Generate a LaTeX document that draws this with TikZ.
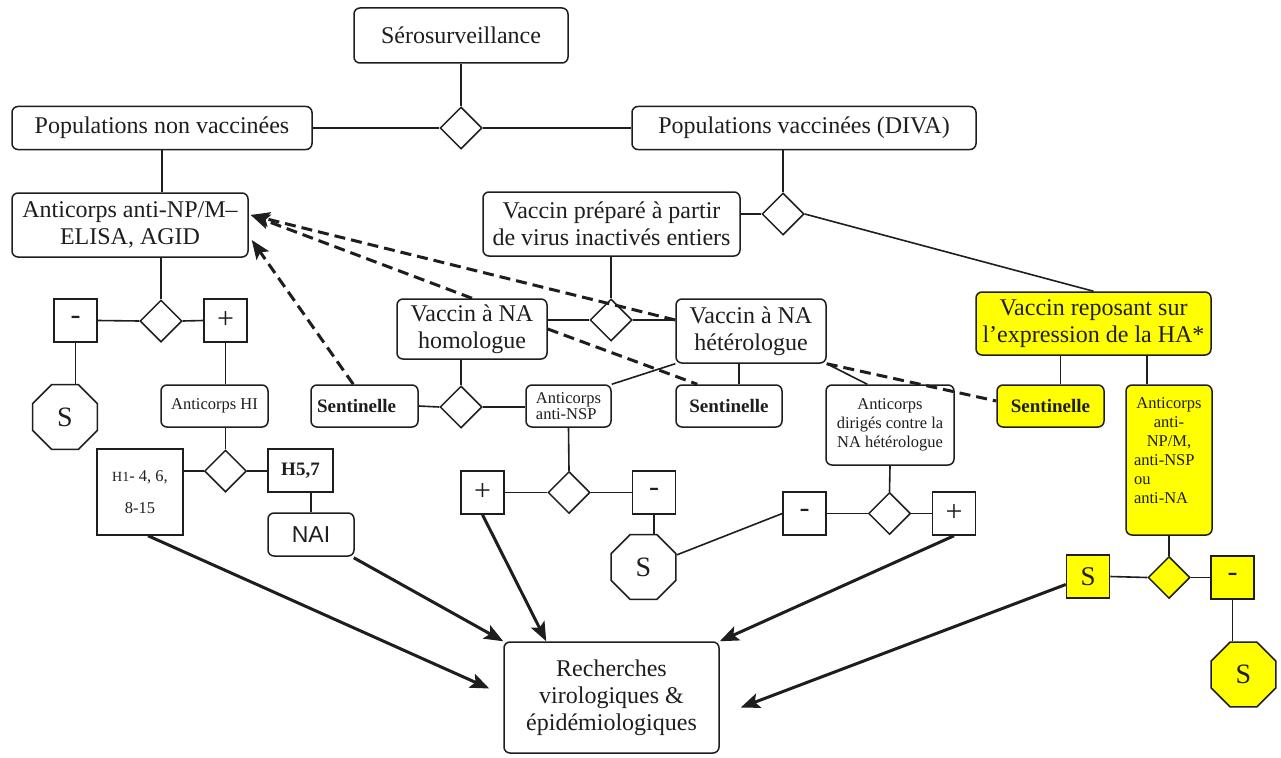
\documentclass[tikz,border=0pt]{standalone}
\usepackage{fontspec}
\setmainfont{Liberation Serif}
\newfontfamily\naifont{Liberation Sans}
\usetikzlibrary{shapes.geometric,arrows.meta,calc}
\definecolor{yel}{RGB}{255,255,0}
\definecolor{ink}{RGB}{30,30,30}
\begin{document}
\begin{tikzpicture}[x=1pt,y=-1pt,
  every node/.style={text=ink},
  box/.style={draw=ink, rounded corners=6pt, line width=1.5pt, inner sep=0pt, align=center, font=\fontsize{24}{27}\selectfont},
  smallbox/.style={box, font=\fontsize{16.5}{19}\selectfont},
  sq/.style={draw=ink, line width=1.5pt, inner sep=0pt, minimum width=43pt, minimum height=43pt, font=\fontsize{30}{30}\selectfont},
  dia/.style={draw=ink, diamond, line width=1.5pt, minimum width=42pt, minimum height=42pt, inner sep=0pt},
  oct/.style={draw=ink, regular polygon, regular polygon sides=8, minimum size=70pt, inner sep=0pt, line width=1.5pt, font=\fontsize{28}{30}\selectfont},
  yf/.style={fill=yel},
  conn/.style={draw=ink, line width=1.6pt},
  arr/.style={draw=ink, line width=3pt, -{Stealth[length=19pt,width=15pt,inset=4pt]}},
  dsh/.style={draw=ink, line width=3pt, dash pattern=on 11pt off 6pt},
  dsharr/.style={dsh, -{Stealth[length=19pt,width=15pt,inset=4pt]}}
]
\useasboundingbox (0,0) rectangle (1281,757);
\fill[white] (0,0) rectangle (1281,757);

% top
\node[box, minimum width=214pt, minimum height=55pt] (ser) at (461,35.5) {Sérosurveillance};
\node[dia] (d1) at (461,128) {};
\node[box, minimum width=300pt, minimum height=43pt] (pnv) at (162,128) {Populations non vaccinées};
\node[box, minimum width=344pt, minimum height=43pt] (pv) at (804,128) {Populations vaccinées (DIVA)};
\node[box, minimum width=236pt, minimum height=64pt] (anp) at (130,225) {Anticorps anti-NP/M–\\ELISA, AGID};
\node[box, minimum width=257pt, minimum height=64pt] (vp) at (611.5,224) {Vaccin préparé à partir\\de virus inactivés entiers};
\node[dia] (d2) at (783,214) {};
\node[box, yf, minimum width=235pt, minimum height=63pt] (ha) at (1093.5,323.5) {Vaccin reposant sur\\l’expression de la HA*};

% middle
\node[dia] (d3) at (611,320) {};
\node[box, minimum width=150pt, minimum height=60pt] (hom) at (472,329) {Vaccin à NA\\homologue};
\node[box, minimum width=150pt, minimum height=64pt] (het) at (751,331) {Vaccin à NA\\hétérologue};
\node[dia] (d4) at (461,407) {};
\node[box, minimum height=42pt, text width=95pt, align=left, inner xsep=6pt, font=\fontsize{19}{21}\selectfont\bfseries] (sen1) at (364.5,406) {Sentinelle};
\node[smallbox, minimum width=85pt, minimum height=42pt, align=left, font=\fontsize{16.5}{16}\selectfont] (nsp) at (568.5,406) {Anticorps\\anti-NSP};
\node[box, minimum width=106pt, minimum height=42pt, font=\fontsize{19}{21}\selectfont\bfseries] (sen2) at (729,406) {Sentinelle};
\node[box, yf, minimum width=107pt, minimum height=42pt, font=\fontsize{19}{21}\selectfont\bfseries] (ysen) at (1050.5,406) {Sentinelle};
\node[smallbox, yf, minimum width=86pt, minimum height=150pt] (yab) at (1169,460) {Anticorps\\anti-\\NP/M,\\\makebox[70pt][l]{anti-NSP}\\\makebox[70pt][l]{ou}\\\makebox[70pt][l]{anti-NA}\\\mbox{}};
\node[smallbox, minimum width=128pt, minimum height=80pt] (dir) at (890,425) {Anticorps\\dirigés contre la\\NA hétérologue};

% left branch
\node[sq] (m1) at (75.5,320.5) {-};
\node[dia] (d6) at (161,321) {};
\node[sq] (p1) at (225.5,320.5) {+};
\node[oct] (o1) at (65,417) {S};
\node[smallbox, minimum width=107pt, minimum height=42pt] (hi) at (214.5,406) {Anticorps HI};
\node[dia] (d7) at (225.5,471) {};
\node[sq, minimum width=86pt, minimum height=86pt, align=center, font=\fontsize{16.5}{32}\selectfont] (h1) at (140,492) {{\fontsize{14}{32}\selectfont H1}- 4, 6,\\8-15};
\node[sq, minimum width=65pt, minimum height=43pt, font=\fontsize{19}{21}\selectfont\bfseries] (h57) at (300.5,470.5) {H5,7};
\node[box, minimum width=86pt, minimum height=43pt, font=\fontsize{23}{25}\selectfont\naifont] (nai) at (311,534.5) {NAI};

% NSP branch
\node[sq] (p2) at (482.5,492.5) {+};
\node[dia] (d5) at (569,492.5) {};
\node[sq] (m2) at (654,492.5) {-};
\node[oct] (o2) at (643.5,567) {S};

% heterologous NA branch
\node[sq] (m3) at (804.5,513.5) {-};
\node[dia] (d8) at (889.5,513.5) {};
\node[sq] (p3) at (954,513.5) {+};

% yellow branch
\node[sq, yf, font=\fontsize{27}{28}\selectfont] (ysb) at (1088,576.5) {S};
\node[dia, yf] (yd) at (1169,577.5) {};
\node[sq, yf] (ym) at (1232.5,577.5) {-};
\node[oct, yf] (yo) at (1243.5,674.5) {S};

% bottom
\node[box, minimum width=215pt, minimum height=111pt] (rech) at (611.5,697.5) {Recherches\\virologiques \&\\épidémiologiques};

% connectors
\path[conn] (ser.south) -- (d1.north);
\path[conn] (pnv.east) -- (d1.west);
\path[conn] (d1.east) -- (pv.west);
\path[conn] (pnv.south) -- (pnv.south |- anp.north);
\path[conn] (d2.north |- pv.south) -- (d2.north);
\path[conn] (d2.west) -- (d2.west -| vp.east);
\path[conn] (d2.east) -- (ha.north);
\path[conn] (d3.north |- vp.south) -- (d3.north);
\path[conn] (d3.west -| hom.east) -- (d3.west);
\path[conn] (d3.east) -- (d3.east -| het.west);
\path[conn] (d4.north |- hom.south) -- (d4.north);
\path[conn] (sen1.east) -- (d4.west);
\path[conn] (d4.east) -- (d4.east -| nsp.west);
\path[conn] (nsp.north east) -- (het.south west);
\path[conn] ([xshift=-12pt]het.south) -- ([xshift=-12pt]het.south |- sen2.north);
\path[conn] (nsp.south) -- (d5.north);
\path[conn] (d5.west) -- (d5.west -| p2.east);
\path[conn] (d5.east) -- (d5.east -| m2.west);
\path[conn] (m2.south) -- (m2.south |- o2.north);
\path[conn] (o2.20) -- (m3.west);
\path[conn] (m3.east) -- (d8.west);
\path[conn] (d8.east) -- (p3.west);
\path[conn] (dir.south) -- (d8.north);
\path[conn] (het.south east) -- ($(dir.north west)+(42,0)$);
\path[conn] ([xshift=10pt]ysen.north) -- ([xshift=10pt]ysen.north |- ha.south);
\path[conn] ([xshift=-22pt]yab.north) -- ([xshift=-22pt]yab.north |- ha.south);
\path[conn] (yab.south) -- (yd.north);
\path[conn] (ysb.east) -- (yd.west);
\path[conn] (yd.east) -- (ym.west);
\path[conn] (ym.south) -- (ym.south |- yo.north);
% left
\path[conn] (d6.north |- anp.south) -- (d6.north);
\path[conn] (m1.east) -- (d6.west);
\path[conn] (d6.east) -- (p1.west);
\path[conn] (m1.south) -- (m1.south |- o1.north);
\path[conn] (p1.south) -- (p1.south |- hi.north);
\path[conn] (d7.north |- hi.south) -- (d7.north);
\path[conn] (d7.west) -- (d7.west -| h1.east);
\path[conn] (d7.east) -- (d7.east -| h57.west);
\path[conn] (nai.north) -- (nai.north |- h57.south);

% dashed
\coordinate (tipA) at ($(anp.east)+(2,-10)$);
\coordinate (tipB) at ($(anp.east)+(3,15)$);
\path[dsharr] (hom.north) -- (tipA);
\path[dsharr] ($(het.west)+(0,-11)$) -- (tipA);
\path[dsharr] ($(sen1.north west)+(43,0)$) -- (tipB);
\path[dsh] (hom.east) -- ($(sen2.north west)+(22,0)$);
\path[dsh] (het.south east) -- ($(ysen.west)+(0,-5)$);

% thick arrows
\path[arr] ([xshift=8pt]h1.south) -- ($(rech.west)+(-14,-9)$);
\path[arr] ([xshift=-1pt,yshift=-1pt]nai.south east) -- (rech.north west);
\path[arr] (p2.south) -- ($(rech.north west)+(43,0)$);
\path[arr] (p3.south) -- (rech.north east);
\path[arr] ($(ysb.west)+(0,8)$) -- ($(rech.east)+(21,10)$);
\end{tikzpicture}
\end{document}
